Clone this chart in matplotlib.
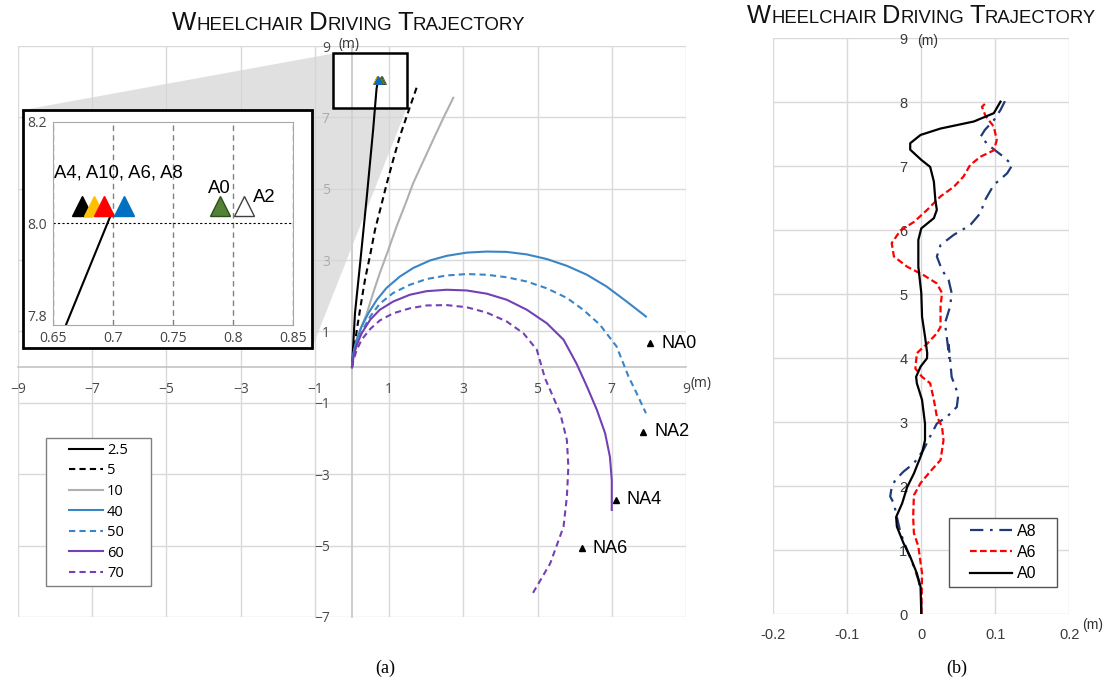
import matplotlib
matplotlib.use("Agg")
import matplotlib.pyplot as plt
from matplotlib.patches import Polygon, Rectangle

W, H = 1108, 687

# ---------------- (a) driving trajectories, metres
traj_25_x = [0, 0.08, 0.22, 0.40, 0.57, 0.661, 0.699]
traj_25_y = [0, 1.51, 2.92, 4.79, 6.66, 7.80, 8.02]
traj_5_x = [0, 0.13, 0.23, 0.35, 0.49, 0.62, 0.78, 0.94, 1.11, 1.29, 1.52, 1.74]
traj_5_y = [0, 1.05, 1.70, 2.45, 3.15, 3.85, 4.50, 5.16, 5.81, 6.47, 7.17, 7.83]
traj_10_x = [0, 0.08, 0.22, 0.40, 0.57, 0.75, 0.98, 1.20, 1.43, 1.65, 1.92, 2.19, 2.46, 2.73]
traj_10_y = [0, 0.58, 1.05, 1.51, 2.08, 2.64, 3.29, 3.94, 4.55, 5.16, 5.77, 6.38, 6.98, 7.55]
traj_40_x = [0, 0.036, 0.126, 0.26, 0.44, 0.67, 0.93, 1.29, 1.65, 2.10, 2.55, 3.09, 3.63,
             4.17, 4.71, 5.25, 5.79, 6.33, 6.86, 7.40, 7.92]
traj_40_y = [0, 0.39, 0.77, 1.14, 1.51, 1.89, 2.22, 2.54, 2.78, 2.99, 3.12, 3.21, 3.24,
             3.23, 3.16, 3.03, 2.84, 2.59, 2.26, 1.84, 1.42]
traj_50_x = [0, 0.05, 0.14, 0.29, 0.49, 0.75, 1.11, 1.56, 2.01, 2.55, 3.09, 3.63, 4.17,
             4.71, 5.25, 5.79, 6.23, 6.68, 7.13, 7.45, 7.67, 7.92]
traj_50_y = [0, 0.35, 0.67, 1.05, 1.42, 1.78, 2.08, 2.31, 2.47, 2.57, 2.61, 2.59, 2.52,
             2.40, 2.21, 1.94, 1.61, 1.19, 0.58, -0.26, -0.73, -1.29]
traj_60_x = [0, 0.04, 0.13, 0.26, 0.49, 0.75, 1.11, 1.56, 2.01, 2.55, 3.09, 3.63, 4.17,
             4.71, 5.25, 5.70, 6.05, 6.33, 6.60, 6.82, 6.95, 7.00, 7.00, 7.00]
traj_60_y = [0, 0.30, 0.63, 0.95, 1.33, 1.61, 1.84, 2.03, 2.13, 2.17, 2.15, 2.06, 1.89,
             1.61, 1.23, 0.77, 0.10, -0.54, -1.20, -1.85, -2.51, -3.16, -3.91, -4.00]
traj_70_x = [0, 0.04, 0.13, 0.26, 0.49, 0.75, 1.11, 1.56, 2.01, 2.55, 3.09, 3.63, 4.17,
             4.62, 4.98, 5.20, 5.34, 5.61, 5.79, 5.83, 5.79, 5.70, 5.34, 4.84]
traj_70_y = [0, 0.20, 0.49, 0.77, 1.07, 1.31, 1.51, 1.65, 1.73, 1.74, 1.68, 1.53, 1.28,
             0.95, 0.49, -0.31, -0.64, -1.29, -2.04, -2.79, -3.63, -4.47, -5.50, -6.39]

na_x = [8.03, 7.84, 7.11, 6.19]
na_y = [0.67, -1.81, -3.72, -5.08]
na_labels = ["NA0", "NA2", "NA4", "NA6"]

# end points (zoomed box)
end_names = ["A2", "A0", "A4", "A10", "A6", "A8"]
end_x = [0.809, 0.789, 0.674, 0.684, 0.693, 0.709]
end_y = [8.035, 8.035, 8.035, 8.035, 8.035, 8.035]
end_colors = ["white", "#548235", "black", "#FFC000", "#FF0000", "#0070C0"]
end_edges = ["#404040", "#2f4d1c", "black", "#FFC000", "#FF0000", "#0070C0"]

# ---------------- (b) lateral deviation, metres
a0_x = [0, -0.001, -0.006, -0.015, -0.024, -0.033, -0.034, -0.026, -0.019, -0.010, 0.001, 0.005,
        0.005, 0.001, -0.006, -0.007, -0.001, 0.0077, 0.008, 0.005, 0.001, 0, -0.004, -0.004,
        0.0, 0.017, 0.021, 0.019, 0.017, 0.012, 0.0, -0.015, -0.015, -0.001, 0.026, 0.071, 0.098, 0.107]
a0_y = [0, 0.43, 0.64, 0.90, 1.11, 1.37, 1.52, 1.73, 1.99, 2.20, 2.52, 2.72,
        2.98, 3.35, 3.61, 3.71, 3.87, 4.0, 4.08, 4.34, 4.65, 5.02, 5.43, 5.85,
        6.03, 6.19, 6.32, 6.47, 6.76, 6.99, 7.10, 7.26, 7.36, 7.49, 7.59, 7.70, 7.83, 8.01]
a6_x = [0, 0.001, -0.004, -0.010, -0.011, -0.010, -0.001, 0.012, 0.026, 0.030, 0.028, 0.021,
        0.017, 0.012, 0.001, -0.008, -0.006, 0.008, 0.021, 0.026, 0.026, 0.028, 0.021, 0.003,
        -0.019, -0.037, -0.040, -0.028, -0.010, 0.008, 0.026, 0.044, 0.057, 0.066, 0.080,
        0.098, 0.102, 0.098, 0.087, 0.082, 0.089]
a6_y = [0, 0.64, 1.06, 1.27, 1.52, 1.86, 2.05, 2.23, 2.41, 2.72, 2.93, 3.09,
        3.35, 3.61, 3.71, 3.84, 4.08, 4.23, 4.39, 4.49, 4.81, 5.02, 5.17, 5.30,
        5.43, 5.59, 5.80, 6.0, 6.13, 6.32, 6.53, 6.68, 6.84, 7.02, 7.15,
        7.25, 7.41, 7.62, 7.78, 7.93, 8.01]
a8_x = [0, 0, -0.004, -0.010, -0.019, -0.028, -0.033, -0.037, -0.042, -0.040, -0.035, -0.024,
        -0.010, 0.003, 0.012, 0.021, 0.035, 0.048, 0.050, 0.041, 0.039, 0.037, 0.038, 0.032,
        0.039, 0.041, 0.037, 0.028, 0.021, 0.026, 0.044, 0.066, 0.080, 0.086, 0.098, 0.116,
        0.123, 0.111, 0.093, 0.080, 0.086, 0.098, 0.107, 0.114]
a8_y = [0, 0.33, 0.54, 0.74, 1.00, 1.27, 1.52, 1.73, 1.84, 1.99, 2.10, 2.23,
        2.36, 2.57, 2.78, 2.98, 3.09, 3.24, 3.43, 3.71, 3.97, 4.21, 4.0, 4.55,
        4.81, 5.02, 5.22, 5.38, 5.59, 5.77, 5.93, 6.08, 6.27, 6.47, 6.71, 6.89,
        7.02, 7.15, 7.31, 7.46, 7.57, 7.72, 7.88, 8.04]

BLUE = "#3A85C6"
PURPLE = "#7340B5"


def fig_box(px0, py0, px1, py1):
    """pixel box (top-left origin) -> figure fraction [l, b, w, h]"""
    return [px0 / W, 1 - py1 / H, (px1 - px0) / W, (py1 - py0) / H]


def small_caps(fig, xc, y_base, words, big, small, family="Liberation Sans"):
    r = fig.canvas.get_renderer()
    parts = []
    for w in words:
        parts += [(w[0].upper(), big), (w[1:].upper(), small)]
    probe = fig.text(0, 0, "H H", fontsize=small, family=family)
    probe2 = fig.text(0, 0, "HH", fontsize=small, family=family)
    space = probe.get_window_extent(r).width - probe2.get_window_extent(r).width
    probe.remove()
    probe2.remove()
    texts = []
    for s, fs in parts:
        t = fig.text(0, 1 - y_base / H, s, fontsize=fs, family=family, va="baseline", color="#111111")
        texts.append((t, t.get_window_extent(r).width))
    total = sum(w for _, w in texts) + space * (len(words) - 1)
    x = xc - total / 2
    for i, (t, w) in enumerate(texts):
        t.set_x(x / W)
        x += w
        if i % 2 == 1:
            x += space


plt.rcParams["font.family"] = "Open Sans"
fig = plt.figure(figsize=(W / 100, H / 100), dpi=100)

# ================= (a) =================
ax = fig.add_axes(fig_box(18, 46, 686, 617))
ax.set_xlim(-9, 9)
ax.set_ylim(-7, 9)
ax.set_xticks(range(-9, 10, 2))
ax.set_yticks(range(-7, 10, 2))
ax.set_axisbelow(True)
ax.grid(color="#d9d9d9", lw=1)
for s in ["top", "right"]:
    ax.spines[s].set_visible(False)
ax.spines["bottom"].set_position(("data", 0))
ax.spines["left"].set_position(("data", 0))
for s in ["bottom", "left"]:
    ax.spines[s].set_color("#c4c4c4")
    ax.spines[s].set_linewidth(1.2)
    ax.spines[s].set_zorder(0.6)
ax.tick_params(axis="x", length=0, labelsize=10, labelcolor="#4a4a4a", pad=11)
ax.tick_params(axis="y", length=0, labelsize=10, labelcolor="#4a4a4a", pad=16)
ax.text(-0.07, 9.05, "(m)", fontsize=10, color="#333333", ha="center", va="center")
ax.text(9.4, -0.45, "(m)", fontsize=10, color="#333333", ha="center", va="center", clip_on=False)

lw = 1.5
ax.plot(traj_25_x, traj_25_y, color="black", lw=lw, label="2.5", zorder=2)
ax.plot(traj_5_x, traj_5_y, color="black", lw=lw, ls=(0, (3, 2)), label="5", zorder=2)
ax.plot(traj_10_x, traj_10_y, color="#b0b0b0", lw=lw, label="10", zorder=2)
ax.plot(traj_40_x, traj_40_y, color=BLUE, lw=lw, label="40", zorder=2)
ax.plot(traj_50_x, traj_50_y, color=BLUE, lw=lw, ls=(0, (3, 2)), label="50", zorder=2)
ax.plot(traj_60_x, traj_60_y, color=PURPLE, lw=lw, label="60", zorder=2)
ax.plot(traj_70_x, traj_70_y, color=PURPLE, lw=lw, ls=(0, (3, 2)), label="70", zorder=2)

for x, y, c, e in zip(end_x, end_y, end_colors, end_edges):
    ax.plot(x, y, marker="^", ms=6, color=c, mec=e, mew=0.6, zorder=3)

ax.plot(na_x, na_y, ls="none", marker="^", ms=5, color="black", zorder=3)
for x, y, s in zip(na_x, na_y, na_labels):
    ax.annotate(s, (x, y), xytext=(8, 0), textcoords="offset points", va="center",
                fontsize=13, family="Liberation Sans")

# zoom rectangle + gray connector
zx0, zx1, zy0, zy1 = -0.5, 1.47, 7.25, 8.79
ax.add_patch(Rectangle((zx0, zy0), zx1 - zx0, zy1 - zy0, fill=False, ec="black", lw=1.8, zorder=3))
to_fig = ax.transData + fig.transFigure.inverted()
tl = to_fig.transform((zx0, zy1))
bl = to_fig.transform((zx0, zy0))
br = to_fig.transform((zx1, zy0))
conn = Polygon([(23 / W, 1 - 110 / H), tl, bl, br, (312 / W, 1 - 348 / H), (23 / W, 1 - 348 / H)],
               closed=True, transform=fig.transFigure, fc="#d4d4d4", ec="none", alpha=0.7,
               zorder=1, clip_on=False)
ax.add_patch(conn)

# legend (a)
lb = fig_box(46, 438, 151, 586)
ax.add_patch(Rectangle((lb[0], lb[1]), lb[2], lb[3], transform=fig.transFigure, fc="white",
                       ec="#808080", lw=1, zorder=4, clip_on=False))
leg = ax.legend(loc="center", bbox_to_anchor=lb, bbox_transform=fig.transFigure, frameon=False,
                fontsize=10.5, handlelength=2.3, handletextpad=0.3, labelspacing=0.38,
                borderaxespad=0)
leg.set_zorder(5)

# inset
box = Rectangle((23 / W, 1 - 348 / H), 289 / W, 238 / H, transform=fig.transFigure,
                fc="white", ec="black", lw=2, zorder=2)
fig.add_artist(box)
axi = fig.add_axes(fig_box(52.7, 121.7, 293, 325), zorder=3)
axi.set_xlim(0.65, 0.85)
axi.set_ylim(7.8, 8.2)
axi.set_xticks([0.65, 0.7, 0.75, 0.8, 0.85], ["0.65", "0.7", "0.75", "0.8", "0.85"])
axi.set_yticks([7.8, 8.0, 8.2], ["7.8", "8.0", "8.2"])
axi.tick_params(length=0, labelsize=10, labelcolor="#444444", pad=4)
axi.get_yticklabels()[0].set_verticalalignment("bottom")
for s in axi.spines.values():
    s.set_color("#a6a6a6")
axi.set_axisbelow(True)
axi.grid(axis="x", color="#808080", lw=1, ls=(0, (4, 3)))
axi.axhline(8.0, color="black", lw=0.8, ls=(0, (2, 2)), zorder=1)
axi.plot(traj_25_x, traj_25_y, color="black", lw=1.5, zorder=2)
for x, y, c, e in zip(end_x, end_y, end_colors, end_edges):
    axi.plot(x, y, marker="^", ms=14, color=c, mec=e, mew=1, zorder=3)
axi.text(0.705, 8.10, "A4, A10, A6, A8", ha="center", va="center", fontsize=13.3, family="Liberation Sans")
axi.text(0.789, 8.068, "A0", ha="center", va="center", fontsize=13.3, family="Liberation Sans")
axi.text(0.826, 8.05, "A2", ha="center", va="center", fontsize=13.3, family="Liberation Sans")

# ================= (b) =================
bx = fig.add_axes(fig_box(773.3, 38.3, 1069.3, 614.3))
bx.set_xlim(-0.2, 0.2)
bx.set_ylim(0, 9)
bx.set_xticks([-0.2, -0.1, 0, 0.1, 0.2], ["-0.2", "-0.1", "0", "0.1", "0.2"])
bx.set_yticks(range(0, 10))
bx.set_axisbelow(True)
bx.grid(color="#d9d9d9", lw=1)
for s in bx.spines.values():
    s.set_visible(False)
bx.spines["left"].set_position(("data", 0))
bx.tick_params(length=0, labelsize=10.5, labelcolor="#3a3a3a")
bx.tick_params(axis="x", pad=10)
bx.tick_params(axis="y", pad=10)
for t in bx.get_xticklabels() + bx.get_yticklabels():
    t.set_family("Liberation Sans")
bx.text(0.008, 8.95, "(m)", fontsize=10, color="#333333", ha="center", va="center", family="Liberation Sans")
bx.text(0.231, -0.17, "(m)", fontsize=10, color="#333333", ha="center", va="center",
        family="Liberation Sans", clip_on=False)

bx.plot(a8_x, a8_y, color="#1F3A78", lw=1.6, ls=(0, (6, 3, 1.2, 3)), label="A8")
bx.plot(a6_x, a6_y, color="#FF0000", lw=1.6, ls=(0, (3, 1.5)), label="A6")
bx.plot(a0_x, a0_y, color="black", lw=1.6, label="A0")

lb2 = fig_box(949.3, 518.3, 1057.3, 586.7)
bx.add_patch(Rectangle((lb2[0], lb2[1]), lb2[2], lb2[3], transform=fig.transFigure, fc="white",
                       ec="#555555", lw=1, zorder=4, clip_on=False))
leg2 = bx.legend(loc="center", bbox_to_anchor=lb2, bbox_transform=fig.transFigure, frameon=False,
                 prop={"family": "Liberation Sans", "size": 11.5}, handlelength=2.6,
                 handletextpad=0.3, labelspacing=0.4, borderaxespad=0)
leg2.set_zorder(5)

# titles and captions
small_caps(fig, 348.5, 30, ["Wheelchair", "Driving", "Trajectory"], 18.5, 13.5)
small_caps(fig, 921.5, 23, ["Wheelchair", "Driving", "Trajectory"], 18.3, 13.3)
fig.text(385 / W, 1 - 668 / H, "(a)", family="Liberation Serif", fontsize=13, ha="center", va="center")
fig.text(957 / W, 1 - 668 / H, "(b)", family="Liberation Serif", fontsize=13, ha="center", va="center")

fig.savefig("out.png", dpi=100)
